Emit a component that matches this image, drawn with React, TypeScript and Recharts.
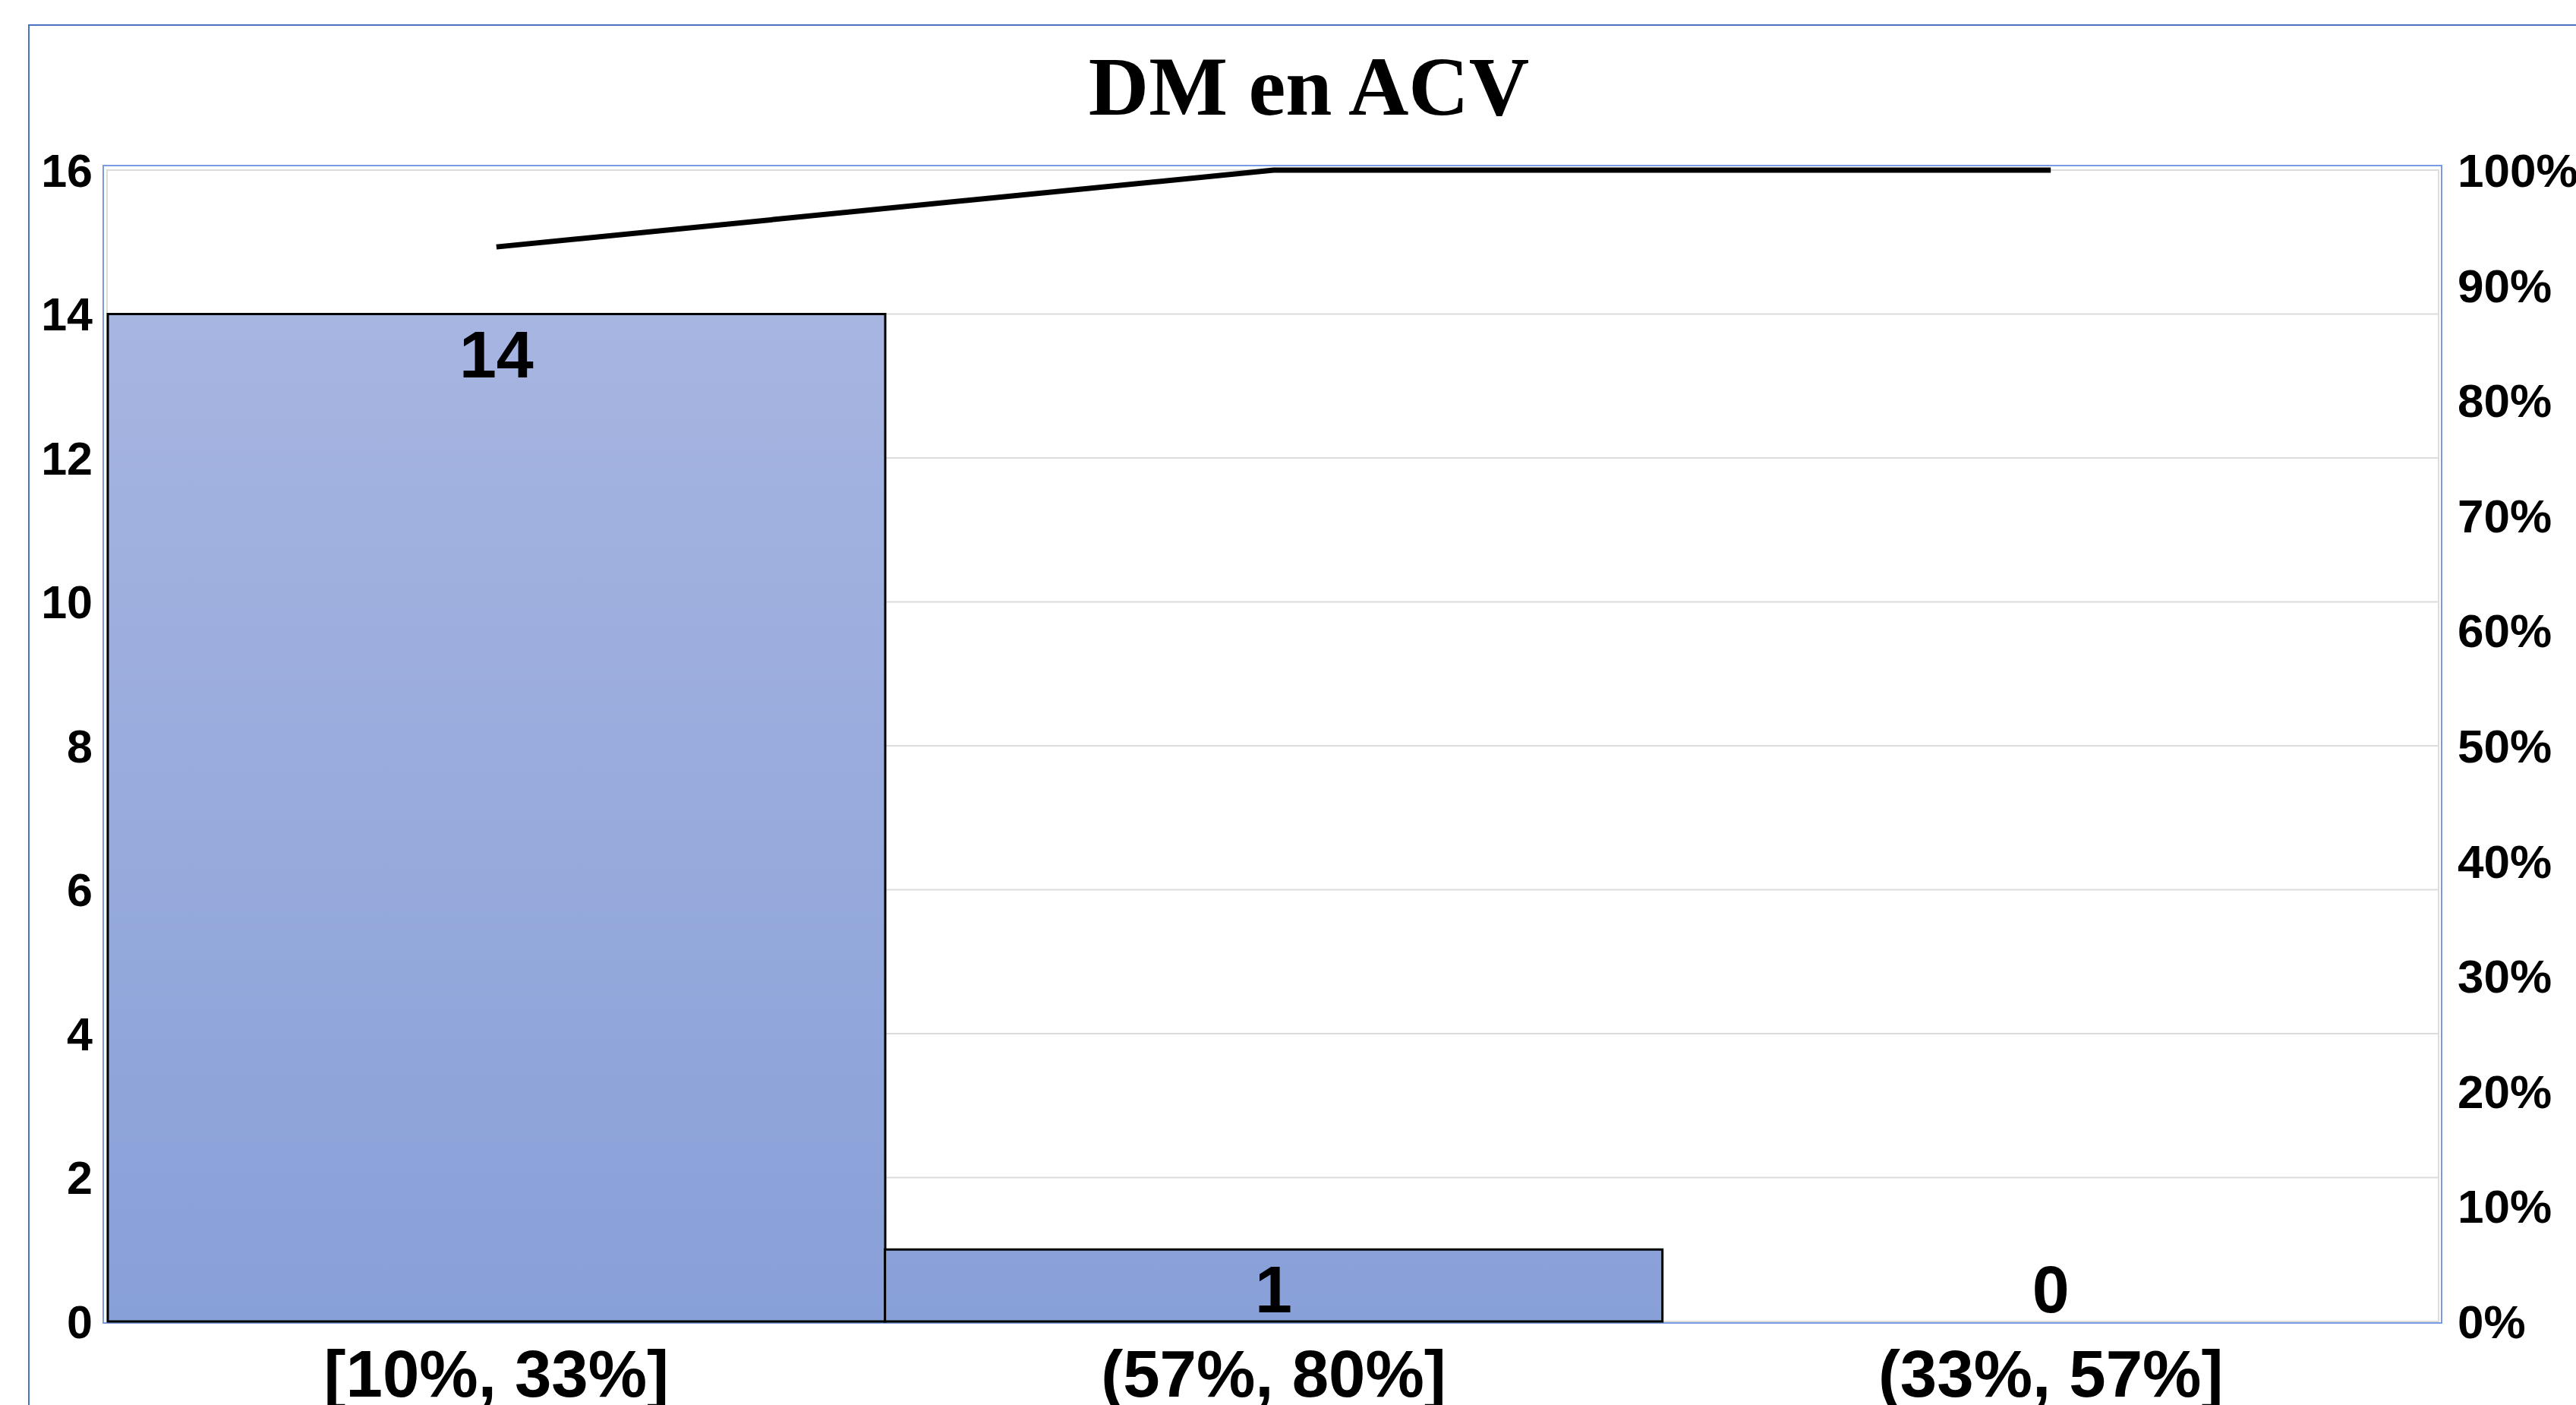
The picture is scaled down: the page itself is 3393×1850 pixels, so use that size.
import { Bar, CartesianGrid, ComposedChart, LabelList, Line, XAxis, YAxis } from "recharts";

const categories = ["[10%, 33%]", "(57%, 80%]", "(33%, 57%]"];
const counts = [14, 1, 0];
const cumulativePct = [93.33, 100, 100];
const countTicks = [0, 2, 4, 6, 8, 10, 12, 14, 16];
const pctTicks = [0, 10, 20, 30, 40, 50, 60, 70, 80, 90, 100];

const W = 3393;
const H = 1850;
// plot box (pixels) the axes are laid out around
const plot = { left: 142, top: 224, right: 3213, bottom: 1740 };
const leftAxisW = 100;
const rightAxisW = 160;
const xAxisH = 100;

const sans = "'Liberation Sans', Arial, sans-serif";

const chartData = categories.map((name, i) => ({
  name,
  count: counts[i],
  cum: cumulativePct[i],
}));

// value labels sit just inside the bar top, never below the baseline
const BarValue = (props: any) => {
  const { x, y, value } = props;
  const baseline = Math.min(y + 83, plot.bottom - 12);
  return (
    <text
      x={x}
      y={baseline}
      textAnchor="middle"
      fontFamily={sans}
      fontWeight="bold"
      fontSize={88}
      fill="#000"
    >
      {value}
    </text>
  );
};

const App = () => {
  return (
    <div
      style={{
        position: "absolute",
        left: 0,
        top: 0,
        width: W,
        height: H,
        overflow: "hidden",
        background: "#fff",
      }}
    >
      {/* outer chart border */}
      <div
        style={{
          position: "absolute",
          left: 37,
          top: 32,
          width: W,
          height: H,
          borderLeft: "2px solid #4A72C0",
          borderTop: "2px solid #4A72C0",
        }}
      />
      <div
        style={{
          position: "absolute",
          left: 0,
          top: 59,
          width: 3448,
          textAlign: "center",
          fontFamily: "'Liberation Serif', 'Times New Roman', serif",
          fontWeight: "bold",
          fontSize: 110,
          lineHeight: "110px",
          color: "#000",
        }}
      >
        DM en ACV
      </div>
      {/* plot area frame */}
      <div
        style={{
          position: "absolute",
          left: plot.left - 7,
          top: plot.top - 7,
          width: plot.right - plot.left + 11,
          height: plot.bottom - plot.top + 10,
          border: "2px solid #7A9CDE",
          boxSizing: "border-box",
        }}
      />
      <div
        style={{
          position: "absolute",
          left: plot.left - 2,
          top: plot.top - 1,
          width: plot.right - plot.left + 2,
          height: plot.bottom - plot.top + 2,
          border: "2px solid #DCDCDC",
          boxSizing: "border-box",
        }}
      />
      <div style={{ position: "absolute", left: 0, top: 0 }}>
        <ComposedChart
          width={W}
          height={H}
          data={chartData}
          barCategoryGap={0}
          margin={{
            top: plot.top,
            left: plot.left - leftAxisW,
            right: W - plot.right - rightAxisW,
            bottom: H - plot.bottom - xAxisH,
          }}
        >
          <defs>
            <linearGradient
              id="barFill"
              gradientUnits="userSpaceOnUse"
              x1={0}
              y1={plot.top}
              x2={0}
              y2={plot.bottom}
            >
              <stop offset="0%" stopColor="#ABB8E2" />
              <stop offset="100%" stopColor="#88A0D8" />
            </linearGradient>
          </defs>
          <CartesianGrid vertical={false} stroke="#DCDCDC" strokeWidth={2} yAxisId="count" />
          <XAxis
            dataKey="name"
            height={xAxisH}
            axisLine={false}
            tickLine={false}
            tickSize={0}
            tickMargin={37}
            interval={0}
            tick={{ fontFamily: sans, fontWeight: "bold", fontSize: 87, fill: "#000" }}
          />
          <YAxis
            yAxisId="count"
            orientation="left"
            width={leftAxisW}
            domain={[0, 16]}
            ticks={countTicks}
            axisLine={false}
            tickLine={false}
            tickSize={0}
            tickMargin={20}
            tick={{ fontFamily: sans, fontWeight: "bold", fontSize: 61, fill: "#000" }}
          />
          <YAxis
            yAxisId="pct"
            orientation="right"
            width={rightAxisW}
            domain={[0, 100]}
            ticks={pctTicks}
            tickFormatter={(v) => `${v}%`}
            axisLine={false}
            tickLine={false}
            tickSize={0}
            tickMargin={24}
            tick={{ fontFamily: sans, fontWeight: "bold", fontSize: 62, fill: "#000", textAnchor: "start" }}
          />
          <Bar
            yAxisId="count"
            dataKey="count"
            fill="url(#barFill)"
            stroke="#000"
            strokeWidth={3}
            isAnimationActive={false}
          />
          {/* invisible carrier for the bar value labels (so the 0 bar gets one too) */}
          <Line
            yAxisId="count"
            dataKey="count"
            stroke="none"
            dot={false}
            activeDot={false}
            legendType="none"
            isAnimationActive={false}
          >
            <LabelList dataKey="count" content={BarValue} />
          </Line>
          <Line
            yAxisId="pct"
            type="linear"
            dataKey="cum"
            stroke="#000"
            strokeWidth={7}
            dot={false}
            activeDot={false}
            isAnimationActive={false}
          />
        </ComposedChart>
      </div>
    </div>
  );
};

export default App;
